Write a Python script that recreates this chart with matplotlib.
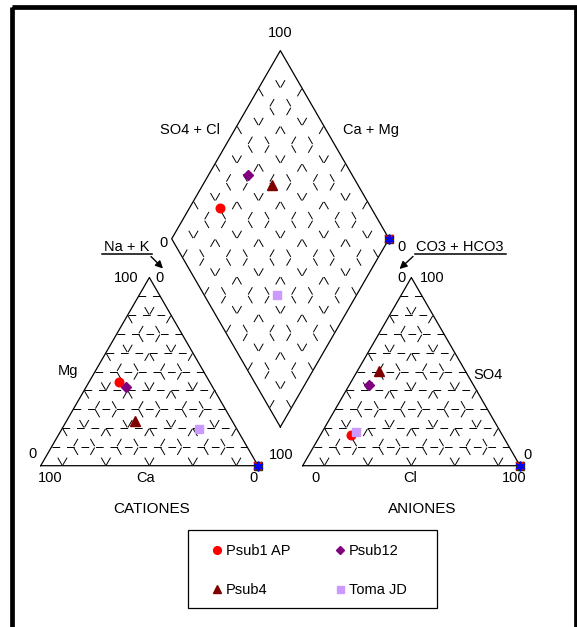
import matplotlib.pyplot as plt
from matplotlib.patches import Rectangle
import numpy as np

plt.rcParams['font.family'] = ['Liberation Sans', 'DejaVu Sans']
plt.rcParams['lines.scale_dashes'] = False

# Datos (% meq)
muestras = ['Psub1 AP', 'Psub4', 'Psub12', 'Toma JD']
colores = ['#FF0000', '#800000', '#800080', '#CC99FF']
marcadores = ['o', '^', 'D', 's']
tam = [6.2, 6.5, 5.0, 5.6]

ca = np.array([41.7, 44.8, 39.7, 17.4])
mg = np.array([44.3, 23.5, 42.0, 19.3])
so4 = np.array([16.3, 50.2, 42.9, 17.7])
cl = np.array([14.1, 10.2, 9.1, 15.5])

# serie vacia que Excel deja en la esquina (Na+K = 100, Cl = 100)
ca_v, mg_v, so4_v, cl_v = 0.0, 0.0, 0.0, 100.0

# Geometria (pixeles)
S = 217.3
H = S*np.sqrt(3)/2
y0 = 465.7
xL = 40.7
gap = 44.7
xR = xL + S + gap
B = np.array([xL + S + gap/2, y0 - gap/2*np.sqrt(3)])
vL = np.array([-S/2, -H])
vR = np.array([S/2, -H])


def cat_xy(ca, mg):
    nak = 100 - ca - mg
    return xL + (nak + mg/2)/100*S, y0 - mg/100*H


def an_xy(cl, so4):
    return xR + (cl + so4/2)/100*S, y0 - so4/100*H


def dia_xy(camg, so4cl):
    p = B[:, None] + np.outer(vL, np.atleast_1d(camg)/100) + np.outer(vR, np.atleast_1d(so4cl)/100)
    return p[0], p[1]


fig = plt.figure(figsize=(5.77, 6.27), dpi=100)
ax = fig.add_axes([0, 0, 1, 1])
ax.set_xlim(0, 577)
ax.set_ylim(627, 0)
ax.axis('off')

px = 0.72  # puntos por pixel
seg = S/10*px
guion_h = (0, (7.7*px, seg*2/3 - 7.7*px))
d_r = 8.5*px
guion_r = (seg - 0.8*px, (d_r, seg - d_r))
lw_g = 0.7


def linea(p, q, ls, invertir=False):
    if invertir:
        p, q = q, p
    ax.plot([p[0], q[0]], [p[1], q[1]], color='k', lw=lw_g, ls=ls)


def triangulo(x0):
    P0 = np.array([x0, y0])
    P1 = np.array([x0 + S, y0])
    P2 = np.array([x0 + S/2, y0 - H])
    for k in range(1, 10):
        t = k/10
        linea(P0 + t*(P2-P0), P1 + t*(P2-P1), guion_h)
        linea(P0 + t*(P1-P0), P2 + t*(P1-P2), guion_r, k % 2 == 0)
        linea(P1 + t*(P0-P1), P2 + t*(P0-P2), guion_r, k % 2 == 0)
    ax.plot([P0[0], P1[0], P2[0], P0[0]], [P0[1], P1[1], P2[1], P0[1]], color='k', lw=0.9)


triangulo(xL)
triangulo(xR)

# rombo: lineas alternando el sentido
for k in range(1, 10):
    t = k/10
    linea(B + t*vL, B + t*vL + vR, guion_r, k % 2 == 0)
    linea(B + t*vR, B + t*vR + vL, guion_r, k % 2 == 0)
V = np.array([B, B + vL, B + vL + vR, B + vR, B])
ax.plot(V[:, 0], V[:, 1], color='k', lw=0.9)

# puntos
cx, cy = cat_xy(ca, mg)
axx, ayy = an_xy(cl, so4)
dx, dy = dia_xy(ca + mg, so4 + cl)
for i in range(len(muestras)):
    ax.plot(cx[i], cy[i], marker=marcadores[i], color=colores[i], ms=tam[i], ls='none', label=muestras[i])
    ax.plot(axx[i], ayy[i], marker=marcadores[i], color=colores[i], ms=tam[i], ls='none')
    ax.plot(dx[i], dy[i], marker=marcadores[i], color=colores[i], ms=tam[i], ls='none')

esq = [cat_xy(ca_v, mg_v), an_xy(cl_v, so4_v), dia_xy(ca_v + mg_v, so4_v + cl_v)]
for x, y in esq:
    ax.plot(x, y, marker='s', color='#333300', ms=5.5, ls='none')
    ax.plot(x, y, marker='x', color='#FF0000', ms=5.5, mew=1.2, ls='none')
    ax.plot(x, y, marker=(6, 2, 0), color='#0000FF', ms=7, mew=1.2, ls='none')

# textos
fs = 10.5
txt = [(280, 33, '100'), (190, 130, 'SO4 + Cl'), (371, 130, 'Ca + Mg'),
       (163, 243, '0'), (402, 247, '0'),
       (127, 247, 'Na + K'), (460, 247, 'CO3 + HCO3'),
       (126, 278.5, '100'), (160, 278.5, '0'), (401, 278.5, '0'), (432, 278.5, '100'),
       (68.3, 371.5, 'Mg'), (32.7, 454.5, '0'), (280.8, 454.8, '100'),
       (49.7, 478, '100'), (146, 478, 'Ca'), (253.2, 478, '0'),
       (315.4, 478, '0'), (410.4, 478, 'Cl'), (514, 478, '100'), (527, 455, '0'),
       (488.3, 375, 'SO4')]
for x, y, s in txt:
    ax.text(x, y, s, ha='center', va='center', fontsize=fs)
ax.text(151.6, 509, 'CATIONES', ha='center', va='center', fontsize=11)
ax.text(422, 509, 'ANIONES', ha='center', va='center', fontsize=11)

ax.plot([102.3, 151.7], [253.5, 253.5], color='k', lw=1.1)
ax.plot([414.5, 505.5], [253.5, 253.5], color='k', lw=1.1)
ax.annotate('', xy=(163, 268.5), xytext=(151, 256.5),
            arrowprops=dict(arrowstyle='-|>', color='k', lw=1.0, mutation_scale=11, shrinkA=0, shrinkB=0))
ax.annotate('', xy=(399.5, 269), xytext=(413, 256.5),
            arrowprops=dict(arrowstyle='-|>', color='k', lw=1.0, mutation_scale=11, shrinkA=0, shrinkB=0))

# leyenda
ax.add_patch(Rectangle((188.3, 530), 248.4, 78.3, fill=False, ec='k', lw=0.9))
ax.legend(loc='center', bbox_to_anchor=(309/577, 1 - 570.8/627), ncol=2, frameon=False,
          fontsize=fs, handlelength=0.8, handletextpad=0.2, columnspacing=3.05,
          labelspacing=1.72, markerscale=0.9)

# marco
ax.add_patch(Rectangle((12.3, 7.3), 564, 640, fill=False, ec='k', lw=3.4, clip_on=False))

plt.savefig('out.png', dpi=100)
